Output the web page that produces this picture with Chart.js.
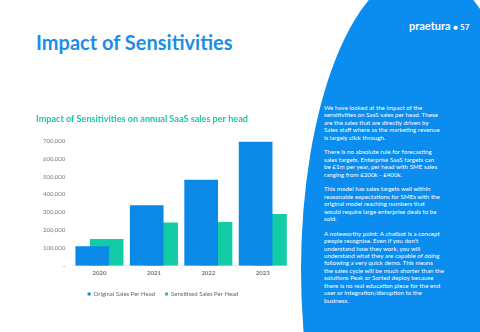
<!DOCTYPE html>
<html>
<head>
<meta charset="utf-8">
<script src="https://cdn.jsdelivr.net/npm/chart.js@4/dist/chart.umd.min.js"></script>
<style>
  html, body { margin: 0; padding: 0; }
  body { width: 480px; height: 332px; overflow: hidden; position: relative; background: #fff; font-family: Lato, sans-serif; }
  svg.bg { position: absolute; left: 0; top: 0; }
  h1 { position: absolute; left: 36px; top: 30px; margin: 0; font-size: 20px; font-weight: 700; color: #1a8ee6; white-space: nowrap; }
  .brand { position: absolute; left: 409px; top: 19px; color: #fff; font-size: 11px; font-weight: 700; white-space: nowrap; }
  .brand span { font-size: 8px; }
  .notes { position: absolute; left: 324px; top: 104px; width: 130px; color: #fff; font-size: 6.2px; line-height: 7.4px; }
  .notes p { margin: 0 0 7.4px 0; white-space: nowrap; }
  #wrap { position: absolute; left: 36px; top: 112px; width: 254px; height: 195px; }
</style>
</head>
<body>
<svg class="bg" width="480" height="332"><ellipse cx="421" cy="270" rx="120" ry="300" fill="#0b8cef"/></svg>
<h1>Impact of Sensitivities</h1>
<div class="brand">praetura <span>&#9679; 57</span></div>
<div class="notes">
  <p>We have looked at the impact of the<br>sensitivities on SaaS sales per head. These<br>are the sales that are directly driven by<br>Sales staff where as the marketing revenue<br>is largely click through.</p>
  <p>There is no absolute rule for forecasting<br>sales targets. Enterprise SaaS targets can<br>be £1m per year, per head with SME sales<br>ranging from £200k - £400k.</p>
  <p>This model has sales targets well within<br>reasonable expectations for SMEs with the<br>original model reaching numbers that<br>would require large enterprise deals to be<br>sold.</p>
  <p>A noteworthy point: A chatbot is a concept<br>people recognise. Even if you don't<br>understand how they work, you will<br>understand what they are capable of doing<br>following a very quick demo. This means<br>the sales cycle will be much shorter than the<br>solutions Peak or Sorted deploy because<br>there is no real education piece for the end<br>user or integration/disruption to the<br>business.</p>
</div>
<div id="wrap"><canvas id="chart"></canvas></div>
<script>
const years = ['2020', '2021', '2022', '2023'];
const originalSales = [110000, 340000, 482000, 695000];
const sensitisedSales = [150000, 243000, 245000, 290000];

const config = {
    type: 'bar',
    data: {
        labels: years,
        datasets: [
            {
                label: 'Original Sales Per Head',
                data: originalSales,
                backgroundColor: '#0a8ae6',
                categoryPercentage: 0.527,
                barPercentage: 2.35
            },
            {
                label: 'Sensitised Sales Per Head',
                data: sensitisedSales,
                backgroundColor: '#12cca6',
                categoryPercentage: 0.527,
                barPercentage: 2.35
            }
        ]
    },
    options: {
        responsive: true,
        maintainAspectRatio: false,
        animation: false,
        layout: { padding: { left: 0, right: 0, top: 0, bottom: 0 } },
        scales: {
            x: {
                grid: { display: false, drawTicks: false },
                border: { display: true, color: '#e8e8e8' },
                ticks: { color: '#777', font: { family: 'Lato', size: 6, weight: 'bold' }, padding: 4 }
            },
            y: {
                min: 0,
                max: 700000,
                grid: { display: false, drawTicks: false },
                border: { display: false },
                ticks: {
                    stepSize: 100000,
                    color: '#777',
                    padding: 7,
                    font: { family: 'Lato', size: 6 },
                    callback: v => v === 0 ? '-' : v.toLocaleString('en-US')
                }
            }
        },
        plugins: {
            title: {
                display: true,
                text: 'Impact of Sensitivities on annual SaaS sales per head',
                align: 'start',
                color: '#1fc6a6',
                font: { family: 'Lato', size: 9.1, weight: 'bold' },
                padding: { top: 2, bottom: 16 }
            },
            legend: {
                position: 'bottom',
                labels: {
                    boxWidth: 3,
                    boxHeight: 3,
                    padding: 10,
                    color: '#666',
                    font: { family: 'Lato', size: 6 }
                }
            },
            tooltip: { enabled: false }
        }
    }
};

const myChart = new Chart(document.getElementById('chart'), config);
</script>
</body>
</html>
